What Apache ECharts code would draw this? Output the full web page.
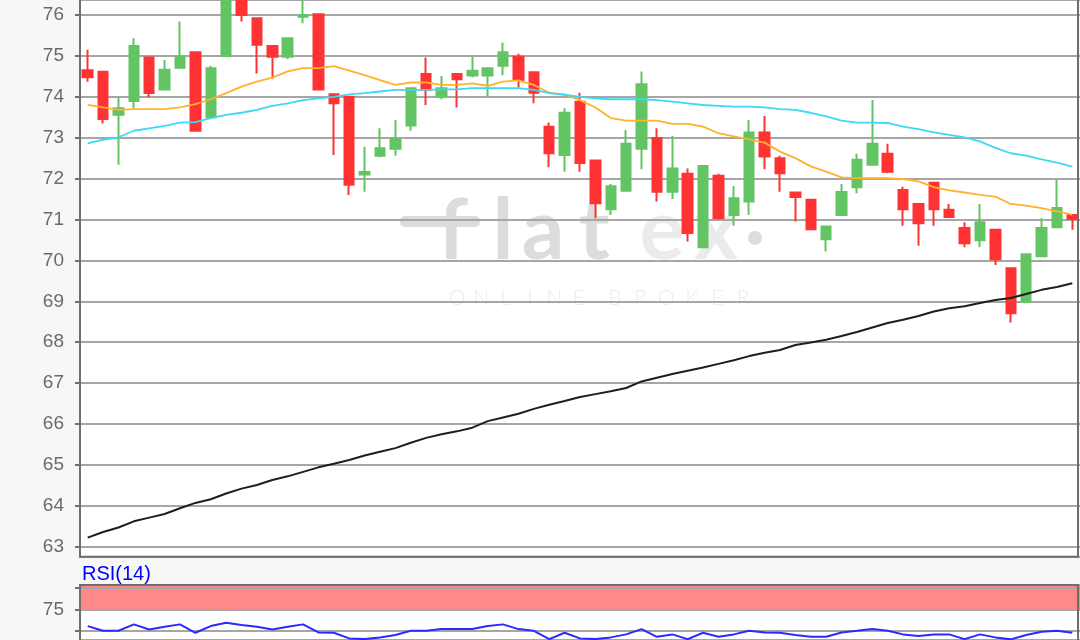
<!DOCTYPE html>
<html>
<head>
<meta charset="utf-8">
<script src="https://cdn.jsdelivr.net/npm/echarts@6/dist/echarts.min.js"></script>
<style>html,body{margin:0;padding:0;background:#f7f7f7;}#c{width:1080px;height:640px;}</style>
</head>
<body>
<div id="c"></div>
<script>
// ---- data ----
// candles: [open, close, low, high]
const candles = [
[74.65,74.48,74.37,75.15],[74.61,73.46,73.35,74.62],[73.56,73.72,72.34,73.98],[73.90,75.24,73.72,75.43],
[74.96,74.09,73.99,74.97],[74.18,74.66,74.17,74.90],[74.71,74.98,74.70,75.84],[75.09,73.17,73.15,75.10],
[73.50,74.70,73.48,74.76],[75.00,76.70,75.00,76.90],[76.60,76.00,75.84,76.80],[75.92,75.27,74.57,75.93],
[75.24,74.98,74.45,75.25],[74.98,75.43,74.92,75.44],[75.96,76.00,75.80,76.45],[76.02,74.18,74.17,76.03],
[74.06,73.84,72.58,74.07],[74.00,71.85,71.60,74.01],[72.10,72.16,71.68,72.78],[72.56,72.74,72.52,73.23],
[72.73,72.96,72.56,73.43],[73.30,74.21,73.17,74.22],[74.56,74.17,73.80,74.96],[74.02,74.21,73.94,74.51],
[74.56,74.43,73.74,74.57],[74.52,74.64,74.48,74.98],[74.52,74.70,73.99,74.71],[74.76,75.09,74.53,75.33],
[74.98,74.41,74.23,75.05],[74.60,74.10,73.84,74.61],[73.27,72.62,72.28,73.37],[72.58,73.61,72.17,73.72],
[73.88,72.38,72.17,74.10],[72.44,71.40,71.03,72.45],[71.25,71.81,71.11,71.87],[71.70,72.85,71.69,73.19],
[72.73,74.31,72.23,74.62],[72.99,71.68,71.44,73.23],[71.68,72.25,71.50,73.04],[72.12,70.67,70.46,72.25],
[70.32,72.31,70.31,72.32],[72.07,71.03,71.00,72.12],[71.11,71.52,70.85,71.82],[71.44,73.13,71.11,73.43],
[73.13,72.54,72.23,73.53],[72.50,72.13,71.68,72.56],[71.66,71.55,70.95,71.67],[71.48,70.76,70.75,71.49],
[70.52,70.83,70.22,70.84],[71.11,71.67,71.10,71.87],[71.79,72.46,71.64,72.61],[72.34,72.85,72.33,73.92],
[72.61,72.17,72.13,72.85],[71.72,71.25,70.85,71.80],[71.38,70.91,70.36,71.39],[71.90,71.25,70.85,71.92],
[71.24,71.06,71.05,71.38],[70.79,70.42,70.32,70.93],[70.49,70.93,70.32,71.38],[70.75,70.03,69.89,70.76],
[69.81,68.71,68.48,69.82],[68.99,70.15,68.95,70.16],[70.10,70.79,70.09,71.03],[70.81,71.28,70.80,71.99],
[71.11,71.02,70.75,71.12]
];
const maShort = [
73.80,73.74,73.68,73.70,73.70,73.70,73.74,73.82,73.94,74.09,
74.25,74.37,74.47,74.62,74.70,74.70,74.75,74.64,74.53,74.41,
74.29,74.35,74.35,74.29,74.29,74.33,74.27,74.37,74.40,74.29,
74.10,74.05,73.92,73.74,73.48,73.42,73.42,73.42,73.34,73.34,
73.27,73.11,73.03,72.96,72.88,72.66,72.50,72.30,72.17,72.03,
72.01,72.01,72.01,71.99,71.93,71.79,71.71,71.66,71.60,71.56,
71.38,71.34,71.28,71.20,71.12
];
const maMid = [
72.86,72.95,73.01,73.17,73.23,73.29,73.37,73.38,73.48,73.56,
73.61,73.68,73.78,73.84,73.92,73.96,74.00,74.06,74.09,74.13,
74.17,74.17,74.17,74.18,74.18,74.21,74.21,74.21,74.21,74.17,
74.09,74.05,74.00,73.96,73.94,73.94,73.94,73.92,73.88,73.84,
73.80,73.78,73.76,73.76,73.74,73.70,73.68,73.61,73.52,73.42,
73.37,73.37,73.36,73.27,73.21,73.13,73.07,73.01,72.91,72.75,
72.62,72.56,72.47,72.39,72.29
];
const maLong = [
63.22,63.36,63.47,63.62,63.71,63.80,63.94,64.07,64.16,64.30,
64.42,64.51,64.63,64.72,64.83,64.94,65.03,65.12,65.23,65.32,
65.41,65.54,65.66,65.75,65.82,65.91,66.07,66.16,66.25,66.37,
66.47,66.56,66.66,66.73,66.80,66.88,67.04,67.13,67.22,67.30,
67.38,67.47,67.56,67.66,67.74,67.81,67.93,67.99,68.06,68.15,
68.25,68.36,68.47,68.55,68.64,68.75,68.83,68.88,68.96,69.03,
69.08,69.18,69.28,69.35,69.44
];
const rsi = [
55.5,50.0,50.0,57.5,51.6,54.7,57.5,47.7,55.5,59.3,
56.7,54.7,51.6,54.7,57.5,48.1,47.7,41.1,40.3,42.3,
45.0,50.0,50.0,52.0,52.0,52.0,55.5,57.5,52.0,50.0,
40.3,47.7,41.1,40.3,42.3,45.8,52.0,43.0,45.8,40.3,
47.7,43.0,45.8,50.0,48.1,47.7,45.0,43.0,43.0,48.1,
50.0,52.0,50.0,45.8,43.8,45.8,45.8,40.3,45.8,42.3,
40.0,45.0,48.8,50.0,47.7
];
const priceTicks = [63,64,65,66,67,68,69,70,71,72,73,74,75,76];
const rsiTicks = [25,75];
const rsiZone = [75, 103.5];
const priceRange = [62.755, 76.367];
const rsiRange = [39.25, 103.5];
const categories = candles.map((_, i) => String(i + 1));

// ---- chart ----
const chart = echarts.init(document.getElementById('c'), null, {renderer: 'canvas'});
const FONT = 'Liberation Sans, Arial, sans-serif';
const AX = '#6e6e6e';
const GRIDC = '#a6a6a6';

const wmGraphics = [];
// watermark "flatex"
const flat = [['f',453],['l',503],['a',543],['t',594]];
flat.forEach(([ch, x]) => wmGraphics.push({type:'text', z:1, silent:true, x:x, y:190,
  style:{text:ch, fill:'#dcdcdc', font:'bold 84px Lato, sans-serif', textAlign:'center', textVerticalAlign:'top'}}));
wmGraphics.push({type:'rect', z:1, silent:true, shape:{x:400,y:216,width:80,height:11,r:5}, style:{fill:'#dcdcdc'}});
const ex = [['e',662],['x',716]];
ex.forEach(([ch, x]) => wmGraphics.push({type:'text', z:1, silent:true, x:x, y:190,
  style:{text:ch, fill:'#ebebeb', font:'bold 84px Lato, sans-serif', textAlign:'center', textVerticalAlign:'top'}}));
wmGraphics.push({type:'circle', z:1, silent:true, shape:{cx:755, cy:238, r:7}, style:{fill:'#dcdcdc'}});
'ONLINE'.split('').forEach((ch, i) => wmGraphics.push({type:'text', z:1, silent:true, x:457 + i*24.3, y:298,
  style:{text:ch, fill:'#ececec', font:'300 21px Lato, sans-serif', textAlign:'center', textVerticalAlign:'middle'}}));
'BROKER'.split('').forEach((ch, i) => wmGraphics.push({type:'text', z:1, silent:true, x:615 + i*25.6, y:298,
  style:{text:ch, fill:'#ececec', font:'300 21px Lato, sans-serif', textAlign:'center', textVerticalAlign:'middle'}}));

const option = {
  backgroundColor: '#f7f7f7',
  animation: false,
  graphic: [
    {type:'rect', z:0, silent:true, shape:{x:80, y:0, width:998, height:557}, style:{fill:'#ffffff'}},
    {type:'rect', z:0, silent:true, shape:{x:80, y:585, width:998, height:60}, style:{fill:'#ffffff'}},
    ...wmGraphics,
    {type:'line', z:10, silent:true, shape:{x1:79, y1:556.7, x2:1079, y2:556.7}, style:{stroke:AX, lineWidth:2}},
    {type:'line', z:10, silent:true, shape:{x1:1078, y1:0, x2:1078, y2:557}, style:{stroke:AX, lineWidth:2}},
    {type:'line', z:10, silent:true, shape:{x1:79, y1:585, x2:1079, y2:585}, style:{stroke:AX, lineWidth:2}},
    {type:'line', z:10, silent:true, shape:{x1:1078, y1:585, x2:1078, y2:640}, style:{stroke:AX, lineWidth:2}},
    {type:'text', z:10, silent:true, x:82, y:574, style:{text:'RSI(14)', fill:'#0000ff', font:'20px ' + FONT, textVerticalAlign:'middle'}}
  ],
  grid: [
    {left: 80, right: 0, top: 0, bottom: 83.3},
    {left: 80, right: 0, top: 585, bottom: 0}
  ],
  xAxis: [
    {type:'category', gridIndex:0, data:categories, boundaryGap:true, axisLine:{show:false}, axisTick:{show:false}, axisLabel:{show:false}, splitLine:{show:false}},
    {type:'category', gridIndex:1, data:categories, boundaryGap:true, axisLine:{show:false}, axisTick:{show:false}, axisLabel:{show:false}, splitLine:{show:false}}
  ],
  yAxis: [
    {type:'value', gridIndex:0, min:priceRange[0], max:priceRange[1], splitNumber:14, minInterval:1, maxInterval:1, z:2, scale:true,
      axisLine:{show:true, lineStyle:{color:AX, width:2}},
      axisTick:{show:true, length:5, lineStyle:{color:AX, width:2}},
      axisLabel:{color:'#6a6a6a', fontSize:19, fontFamily:FONT, margin:16, showMinLabel:false, showMaxLabel:false,
        formatter: v => priceTicks.some(t => Math.abs(t - v) < 1e-6) ? String(Math.round(v)) : ''},
      splitLine:{show:true, lineStyle:{color:GRIDC, width:2}}},
    {type:'value', gridIndex:1, min:rsiRange[0], max:rsiRange[1], splitNumber:3, minInterval:25, maxInterval:25, z:2, scale:true,
      axisLine:{show:true, lineStyle:{color:AX, width:2}},
      axisTick:{show:true, length:5, lineStyle:{color:AX, width:2}},
      axisLabel:{color:'#6a6a6a', fontSize:19, fontFamily:FONT, margin:16, showMinLabel:false, showMaxLabel:false,
        formatter: v => rsiTicks.some(t => Math.abs(t - v) < 1e-6) ? String(Math.round(v)) : ''},
      splitLine:{show:true, lineStyle:{color:GRIDC, width:2}}}
  ],
  series: [
    {type:'candlestick', xAxisIndex:0, yAxisIndex:0, data:candles, barWidth:10, clip:true, z:3,
      itemStyle:{color:'#63c463', color0:'#ff3333', borderColor:'#63c463', borderColor0:'#ff3333', borderWidth:2}},
    {type:'line', xAxisIndex:0, yAxisIndex:0, data:maShort, symbol:'none', clip:true, z:4, lineStyle:{color:'#ffb22c', width:1.8}},
    {type:'line', xAxisIndex:0, yAxisIndex:0, data:maMid, symbol:'none', clip:true, z:4, lineStyle:{color:'#3dd8f5', width:1.8}},
    {type:'line', xAxisIndex:0, yAxisIndex:0, data:maLong, symbol:'none', clip:true, z:4, lineStyle:{color:'#1e1e1e', width:2}},
    {type:'line', xAxisIndex:1, yAxisIndex:1, data:rsi, symbol:'none', clip:true, z:4, lineStyle:{color:'#2a2aff', width:2},
      markArea:{silent:true, itemStyle:{color:'rgba(255,40,40,0.55)'}, data:[[{yAxis:rsiZone[0]}, {yAxis:rsiZone[1]}]]}}
  ]
};
chart.setOption(option);
</script>
</body>
</html>
